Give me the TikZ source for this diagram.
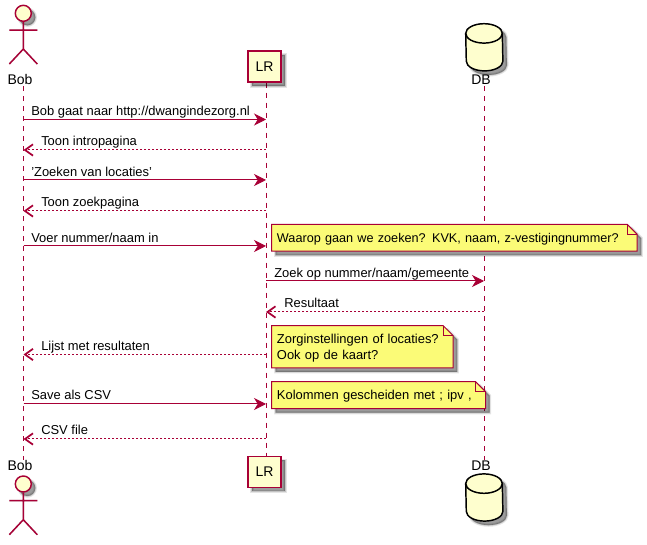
\documentclass[tikz,border=0pt]{standalone}
\usepackage{fontspec}
\setmainfont{Liberation Sans}
\usepackage{xcolor}
\usepackage{tikz}
\usetikzlibrary{arrows.meta,positioning,shapes.geometric,shadows,backgrounds,calc}
\definecolor{seqLine}{HTML}{A80036}
\definecolor{seqSoft}{HTML}{FEFECE}
\definecolor{seqNote}{HTML}{FBFB77}
\tikzset{
  softshadow/.style={
    drop shadow={shadow xshift=3pt, shadow yshift=-3pt, fill=black, draw=black, line width=2.5pt, opacity=.1},
    drop shadow={shadow xshift=3pt, shadow yshift=-3pt, fill=black, draw=black, line width=1pt, opacity=.15},
    drop shadow={shadow xshift=3pt, shadow yshift=-3pt, fill=black, opacity=.2}},
  seqfont/.style={font=\fontsize{9.7}{12}\selectfont},
  namefont/.style={font=\fontsize{10.5}{12}\selectfont},
  seqbox/.style={draw=seqLine, fill=seqSoft, line width=1.1pt, namefont, softshadow, minimum width=24.75pt, minimum height=23.25pt, inner sep=0pt},
  seqcan/.style={minimum width=27.5pt, minimum height=35pt, inner sep=0pt},
  seqcanbody/.style={draw=black, fill=seqSoft, line width=1.1pt, softshadow},
  seqcantop/.style={draw=black, line width=1.1pt},
  seqhead/.style={circle, draw=seqLine, fill=seqSoft, line width=1.1pt, softshadow, minimum size=12pt, inner sep=0pt},
  seqname/.style={namefont, inner sep=0pt, minimum height=9pt},
  seqstick/.style={draw=seqLine, line width=1.1pt},
  seqnote/.style={seqfont, text width=#1, align=left, inner xsep=3.75pt, inner ysep=0pt, anchor=north west},
  notepaper/.style={draw=seqLine, fill=seqNote, line width=.75pt, softshadow},
  notefold/.style={draw=seqLine, line width=.75pt},
  seqlife/.style={draw=seqLine, line width=.75pt, dash pattern=on 3.75pt off 3.75pt},
  seqarrow/.style={-{Stealth[length=9pt, width=9pt, inset=2.8pt]}, draw=seqLine, fill=seqLine, line width=.75pt},
  seqreply/.style={-{Straight Barb[length=6pt, width=8.5pt, line width=1.3pt]}, draw=seqLine, line width=.75pt, dash pattern=on 1.5pt off 1.5pt},
  seqlabel/.style={seqfont, inner sep=0pt, anchor=base west}
}
\newcommand{\notestrut}{\rule[-3pt]{0pt}{13pt}}
\newcommand{\stickman}[1]{
  \draw[seqstick, draw=black, opacity=.18, shift={(4,4)}] (#1.south) -- ++(0,27) ++(-14,-19) -- ++(28,0) ++(-14,19) -- ++(-14,15) ++(14,-15) -- ++(14,15);
  \draw[seqstick] (#1.south) -- ++(0,27) ++(-14,-19) -- ++(28,0) ++(-14,19) -- ++(-14,15) ++(14,-15) -- ++(14,15);
}
\newcommand{\foldnote}[1]{
  \path[notepaper] (#1.north west) -- ($(#1.north east)+(-10,0)$) -- ($(#1.north east)+(0,10)$) -- (#1.south east) -- (#1.south west) -- cycle;
  \draw[notefold] ($(#1.north east)+(-10,0)$) -- ($(#1.north east)+(-10,10)$) -- ($(#1.north east)+(0,10)$);
}
\newcommand{\dbcan}[1]{
  \path[seqcanbody] ($(#1.north west)+(0,9.7)$) arc[start angle=180, end angle=360, x radius=18.3, y radius=9.7] -- ($(#1.south east)+(0,-9.7)$) arc[start angle=0, end angle=180, x radius=18.3, y radius=9.7] -- cycle;
  \draw[seqcantop] ($(#1.north west)+(0,9.7)$) arc[start angle=180, end angle=0, x radius=18.3, y radius=9.7];
}
\begin{document}
\begin{tikzpicture}[x=.75pt, y=-.75pt]
    \useasboundingbox (0,0) rectangle (647,545);
    \foreach \n/\y in {1/119.5,2/150,3/180,4/211,5/246,6/281,7/312,8/354.5,9/404,10/439}{
      \coordinate (bob\n) at (23.5,\y);
      \coordinate (lr\n) at (266,\y);
      \coordinate (db\n) at (484,\y);
    }
    \node[seqhead] (bobhead) at (23.3,13.3) {};
    \node[seqname, anchor=base] (bobtop) at (20,85) {Bob};
    \node[seqbox] (lrtop) at (264.5,66.5) {\raisebox{-1pt}{LR}};
    \node[seqcan] (dbtop) at (484.3,47.3) {};
    \node[seqname, anchor=base] (dbname) at (481,85) {DB};
    \node[seqname, anchor=base] (bobbot) at (20,471) {Bob};
    \node[seqhead] (bobfoot) at (23.3,484) {};
    \node[seqbox] (lrbot) at (264.5,472) {\raisebox{-1pt}{LR}};
    \node[seqname, anchor=base] (dbnamebot) at (481,471) {DB};
    \node[seqcan] (dbbot) at (484.3,497.5) {};
    \stickman{bobhead}
    \stickman{bobfoot}
    \dbcan{dbtop}
    \dbcan{dbbot}
    \node[seqnote=266.25pt, minimum height=19.8pt, font=\fontsize{9.5}{12}\selectfont] (note1) at (271.7,224.3) {\notestrut Waarop gaan we zoeken? KVK, naam, z-vestigingnummer?};
    \node[seqnote=128.25pt, minimum height=31.2pt] (note2) at (271.7,325.7) {\notestrut Zorginstellingen of locaties?\\\strut Ook op de kaart?};
    \node[seqnote=152.5pt, minimum height=19.8pt] (note3) at (271.7,381.7) {\notestrut Kolommen gescheiden met ; ipv ,};
    \begin{scope}[on background layer]
      \draw[seqlife] (bob1 |- bobtop.south) -- (bob1 |- bobbot.north);
      \draw[seqlife] (lr1 |- lrtop.south) -- (lr1 |- lrbot.north);
      \draw[seqlife] (db1 |- dbname.south) -- (db1 |- dbnamebot.north);
      \foldnote{note1}
      \foldnote{note2}
      \foldnote{note3}
    \end{scope}
    \draw[seqarrow] (bob1) -- (lr1);
    \node[seqlabel] (msg1) at (31,115.5) {Bob gaat naar http://dwangindezorg.nl};
    \draw[seqreply] (lr2) -- (bob2);
    \node[seqlabel] (msg2) at (41,146) {Toon intropagina};
    \draw[seqarrow] (bob3) -- (lr3);
    \node[seqlabel] (msg3) at (31,177) {'Zoeken van locaties'};
    \draw[seqreply] (lr4) -- (bob4);
    \node[seqlabel] (msg4) at (41,207) {Toon zoekpagina};
    \draw[seqarrow] (bob5) -- (lr5);
    \node[seqlabel] (msg5) at (31,243) {Voer nummer/naam in};
    \draw[seqarrow] (lr6) -- (db6);
    \node[seqlabel] (msg6) at (274,277.5) {Zoek op nummer/naam/gemeente};
    \draw[seqreply] (db7) -- (lr7);
    \node[seqlabel] (msg7) at (284,308) {Resultaat};
    \draw[seqreply] (lr8) -- (bob8);
    \node[seqlabel] (msg8) at (41,351) {Lijst met resultaten};
    \draw[seqarrow] (bob9) -- (lr9);
    \node[seqlabel] (msg9) at (31,400) {Save als CSV};
    \draw[seqreply] (lr10) -- (bob10);
    \node[seqlabel] (msg10) at (41,435) {CSV file};
  \end{tikzpicture}
\end{document}
